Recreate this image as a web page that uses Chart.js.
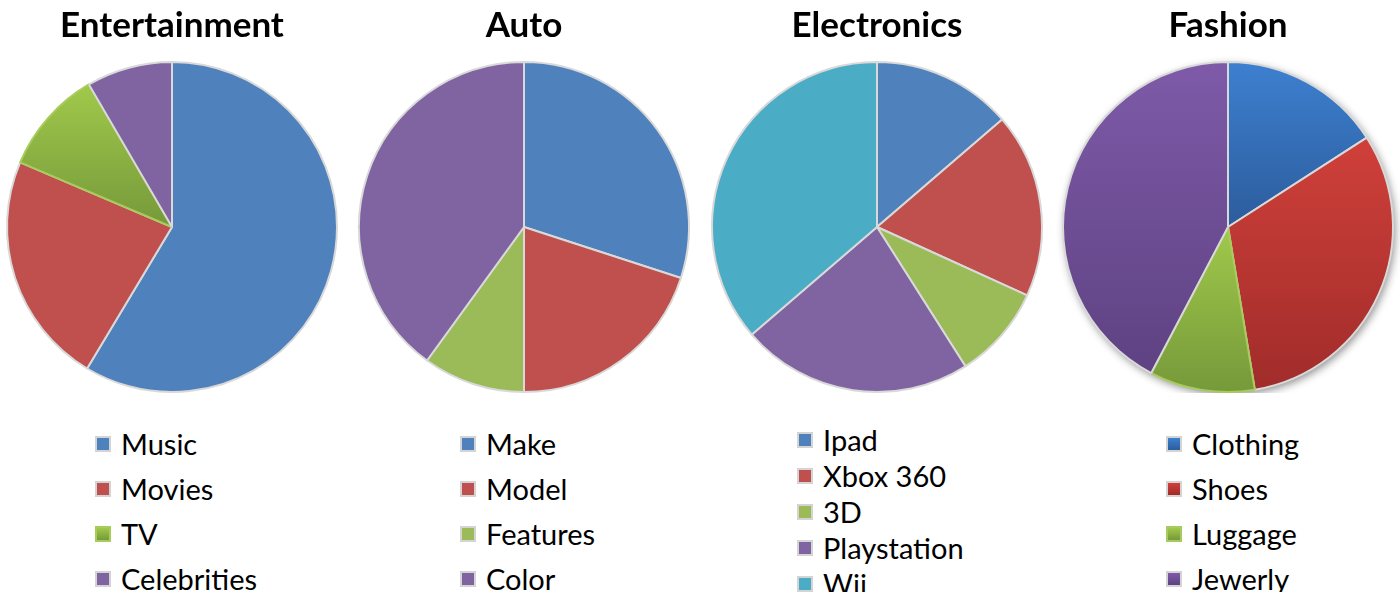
<!DOCTYPE html>
<html>
<head>
<meta charset="utf-8">
<script src="https://cdn.jsdelivr.net/npm/chart.js@4.4.1/dist/chart.umd.min.js"></script>
<style>
    html, body { margin: 0; padding: 0; background: #ffffff; }
    body { width: 1400px; height: 592px; position: relative; overflow: hidden; font-family: Lato, sans-serif; }
    .box { position: absolute; top: 0; width: 352px; height: 393px; }
    .legend { position: absolute; margin: 0; padding: 0; list-style: none; }
    .legend li { position: relative; font-size: 29px; color: #000; white-space: nowrap; }
    .legend .mark { position: absolute; left: 0; width: 12px; height: 12px; border: 2px solid #d4d4d4; }
</style>
</head>
<body>

<div class="box" style="left:-4px"><canvas id="entertainmentChart"></canvas></div>
<div class="box" style="left:348px"><canvas id="autoChart"></canvas></div>
<div class="box" style="left:701px"><canvas id="electronicsChart"></canvas></div>
<div class="box" style="left:1052px"><canvas id="fashionChart"></canvas></div>

<ul class="legend" id="entertainmentLegend" style="left:95px; top:421px"></ul>
<ul class="legend" id="autoLegend" style="left:460px; top:421px"></ul>
<ul class="legend" id="electronicsLegend" style="left:797px; top:422px"></ul>
<ul class="legend" id="fashionLegend" style="left:1166px; top:421px"></ul>

<script>
// Данные графиков
const entertainmentLabels = ['Music', 'Movies', 'TV', 'Celebrities'];
const entertainmentValues = [58.6, 22.8, 10.2, 8.4];

const autoLabels = ['Make', 'Model', 'Features', 'Color'];
const autoValues = [30, 20, 10, 40];

const electronicsLabels = ['Ipad', 'Xbox 360', '3D', 'Playstation', 'Wii'];
const electronicsValues = [13.7, 18.1, 9.2, 22.7, 36.3];

const fashionLabels = ['Clothing', 'Shoes', 'Luggage', 'Jewerly'];
const fashionValues = [15.9, 31.5, 10.3, 42.3];

// Цвета: [верх, низ] для градиента
const officeColors = {
    blue: ['#4F81BD', '#4F81BD'],
    red: ['#C0504D', '#C0504D'],
    green: ['#9BBB59', '#9BBB59'],
    purple: ['#8064A2', '#8064A2'],
    aqua: ['#4BACC6', '#4BACC6'],
    greenGrad: ['#A0C94B', '#76993A'],
    blueGrad: ['#3D80D0', '#2C5C9C'],
    redGrad: ['#D0403A', '#A02C2A'],
    purpleGrad: ['#7E5AA8', '#5E4282']
};

// Градиент по высоте каждого сектора
const sliceGradientPlugin = {
    id: 'sliceGradient',
    beforeDatasetsDraw(chart) {
        const meta = chart.getDatasetMeta(0);
        const colors = chart.config.options.sliceColors;
        const ctx = chart.ctx;

        if (chart.config.options.pieShadow && meta.data.length) {
            const a = meta.data[0];
            ctx.save();
            ctx.shadowColor = 'rgba(0, 0, 0, 0.45)';
            ctx.shadowBlur = 9;
            ctx.shadowOffsetX = 2;
            ctx.shadowOffsetY = 3;
            ctx.fillStyle = '#ffffff';
            ctx.beginPath();
            ctx.arc(a.x, a.y, a.outerRadius, 0, Math.PI * 2);
            ctx.fill();
            ctx.restore();
        }

        meta.data.forEach((arc, i) => {
            const pair = colors[i];
            if (pair[0] === pair[1]) return;
            const r = arc.outerRadius;
            let ys = [arc.y, arc.y + r * Math.sin(arc.startAngle), arc.y + r * Math.sin(arc.endAngle)];
            const check = (ang) => {
                for (let k = -2; k <= 2; k++) {
                    const t = ang + k * Math.PI * 2;
                    if (t >= arc.startAngle && t <= arc.endAngle) return true;
                }
                return false;
            };
            if (check(-Math.PI / 2)) ys.push(arc.y - r);
            if (check(Math.PI / 2)) ys.push(arc.y + r);
            const g = ctx.createLinearGradient(0, Math.min(...ys), 0, Math.max(...ys));
            g.addColorStop(0, pair[0]);
            g.addColorStop(1, pair[1]);
            arc.options = Object.assign({}, arc.options, { backgroundColor: g });
        });
    }
};

function makePie(id, title, labels, values, colorKeys, borders, shadow) {
    const ctx = document.getElementById(id);
    const sliceColors = colorKeys.map(k => officeColors[k]);
    return new Chart(ctx, {
        type: 'pie',
        data: {
            labels: labels,
            datasets: [{
                data: values,
                backgroundColor: sliceColors.map(c => c[0]),
                borderColor: borders,
                borderWidth: 2,
                hoverOffset: 0,
                offset: 0
            }]
        },
        options: {
            responsive: true,
            maintainAspectRatio: false,
            animation: false,
            events: [],
            sliceColors: sliceColors,
            pieShadow: shadow,
            layout: { padding: 0 },
            plugins: {
                legend: { display: false },
                tooltip: { enabled: false },
                title: {
                    display: true,
                    text: title,
                    color: '#000000',
                    font: { family: 'Lato', size: 35, weight: 'bold', lineHeight: 1.2 },
                    padding: { top: 5, bottom: 14 }
                }
            }
        },
        plugins: [sliceGradientPlugin]
    });
}

// Легенда списком под графиком
function buildLegend(listId, labels, colorKeys, borders, rowHeight) {
    const ul = document.getElementById(listId);
    labels.forEach((label, i) => {
        const c = officeColors[colorKeys[i]];
        const li = document.createElement('li');
        li.style.height = rowHeight + 'px';
        li.style.lineHeight = rowHeight + 'px';
        li.style.paddingLeft = '26px';
        const mark = document.createElement('span');
        mark.className = 'mark';
        mark.style.top = (rowHeight / 2 - 8) + 'px';
        mark.style.background = 'linear-gradient(' + c[0] + ', ' + c[1] + ')';
        if (borders[i] !== '#D9D9D9') mark.style.borderColor = borders[i];
        li.appendChild(mark);
        li.appendChild(document.createTextNode(label));
        ul.appendChild(li);
    });
}

const grey = '#D9D9D9';

const entKeys = ['blue', 'red', 'greenGrad', 'purple'];
const entBorders = [grey, grey, '#A8CC5C', grey];
const autoKeys = ['blue', 'red', 'green', 'purple'];
const autoBorders = [grey, grey, grey, grey];
const elecKeys = ['blue', 'red', 'green', 'purple', 'aqua'];
const elecBorders = [grey, grey, grey, grey, grey];
const fashKeys = ['blueGrad', 'redGrad', 'greenGrad', 'purpleGrad'];
const fashBorders = [grey, grey, '#A8CC5C', grey];

makePie('entertainmentChart', 'Entertainment', entertainmentLabels, entertainmentValues, entKeys, entBorders, false);
makePie('autoChart', 'Auto', autoLabels, autoValues, autoKeys, autoBorders, false);
makePie('electronicsChart', 'Electronics', electronicsLabels, electronicsValues, elecKeys, elecBorders, false);
makePie('fashionChart', 'Fashion', fashionLabels, fashionValues, fashKeys, fashBorders, true);

buildLegend('entertainmentLegend', entertainmentLabels, entKeys, entBorders, 45);
buildLegend('autoLegend', autoLabels, autoKeys, autoBorders, 45);
buildLegend('electronicsLegend', electronicsLabels, elecKeys, elecBorders, 36);
buildLegend('fashionLegend', fashionLabels, fashKeys, fashBorders, 45);
</script>
</body>
</html>
